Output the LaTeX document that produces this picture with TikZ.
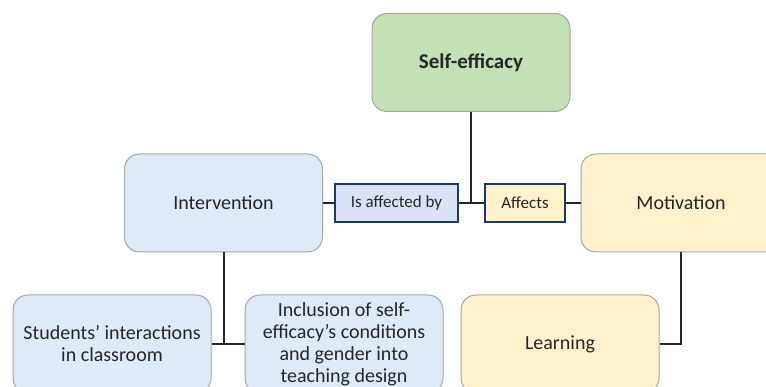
\documentclass[tikz,border=0pt]{standalone}
\usepackage{fontspec}
\setmainfont{Carlito}
\usepackage{xcolor}
\usepackage{tikz}

\definecolor{effgreen}{HTML}{C5E0B4}
\definecolor{lightblue}{HTML}{DEEBF7}
\definecolor{labelblue}{HTML}{DAE3F3}
\definecolor{lightyellow}{HTML}{FFF2CC}
\definecolor{boxgray}{HTML}{A6A6A6}
\definecolor{navy}{HTML}{1F3864}
\definecolor{inkgray}{HTML}{262626}

\tikzset{
  topic/.style = {draw=boxgray, line width=1pt, rounded corners=15pt,
                  minimum width=198pt, minimum height=98pt, inner sep=0pt,
                  align=center, text=inkgray, font=\fontsize{20}{22}\selectfont},
  relbox/.style = {draw=navy, line width=1.6pt, minimum height=38pt, inner sep=0pt,
                   text=inkgray, font=\fontsize{17}{20}\selectfont},
  link/.style = {line width=2pt, inkgray}
}

\begin{document}
\begin{tikzpicture}[x=1pt, y=-1pt]
  \useasboundingbox (0,0) rectangle (766,387);
  \clip (0,0) rectangle (766,387);

  % top
  \node[topic, fill=effgreen, font=\bfseries\fontsize{21}{23}\selectfont] (selfeff) at (471,62.5) {Self-efficacy};

  % middle row
  \node[topic, fill=lightblue]   (interv)  at (223.5,203) {Intervention};
  \node[topic, fill=lightyellow, minimum width=200pt] (motiv) at (681,203) {Motivation};
  \node[relbox, fill=labelblue, minimum width=123pt]   (affby)   at (396.5,203) {Is affected by};
  \node[relbox, fill=lightyellow, minimum width=80pt]  (affects) at (525,203)   {Affects};

  % bottom row
  \node[topic, fill=lightblue] (students) at (112,344)
       {Students’ interactions\\in classroom};
  \node[topic, fill=lightblue] (inclusion) at (344,344)
       {Inclusion of self-\\efficacy’s conditions\\and gender into\\teaching design};
  \node[topic, fill=lightyellow] (learning) at (560,344) {Learning};

  % connectors
  \draw[link] (interv.east) -- (affby.west);
  \draw[link] (affby.east) -- (affects.west);
  \draw[link] (affects.east) -- (motiv.west);
  \draw[link] (selfeff.south) -- (selfeff.south |- affby.east);
  \draw[link] (interv.south) -- (interv.south |- students.east);
  \draw[link] (students.east) -- (inclusion.west);
  \draw[link] (learning.east) -| (motiv.south);
\end{tikzpicture}
\end{document}
